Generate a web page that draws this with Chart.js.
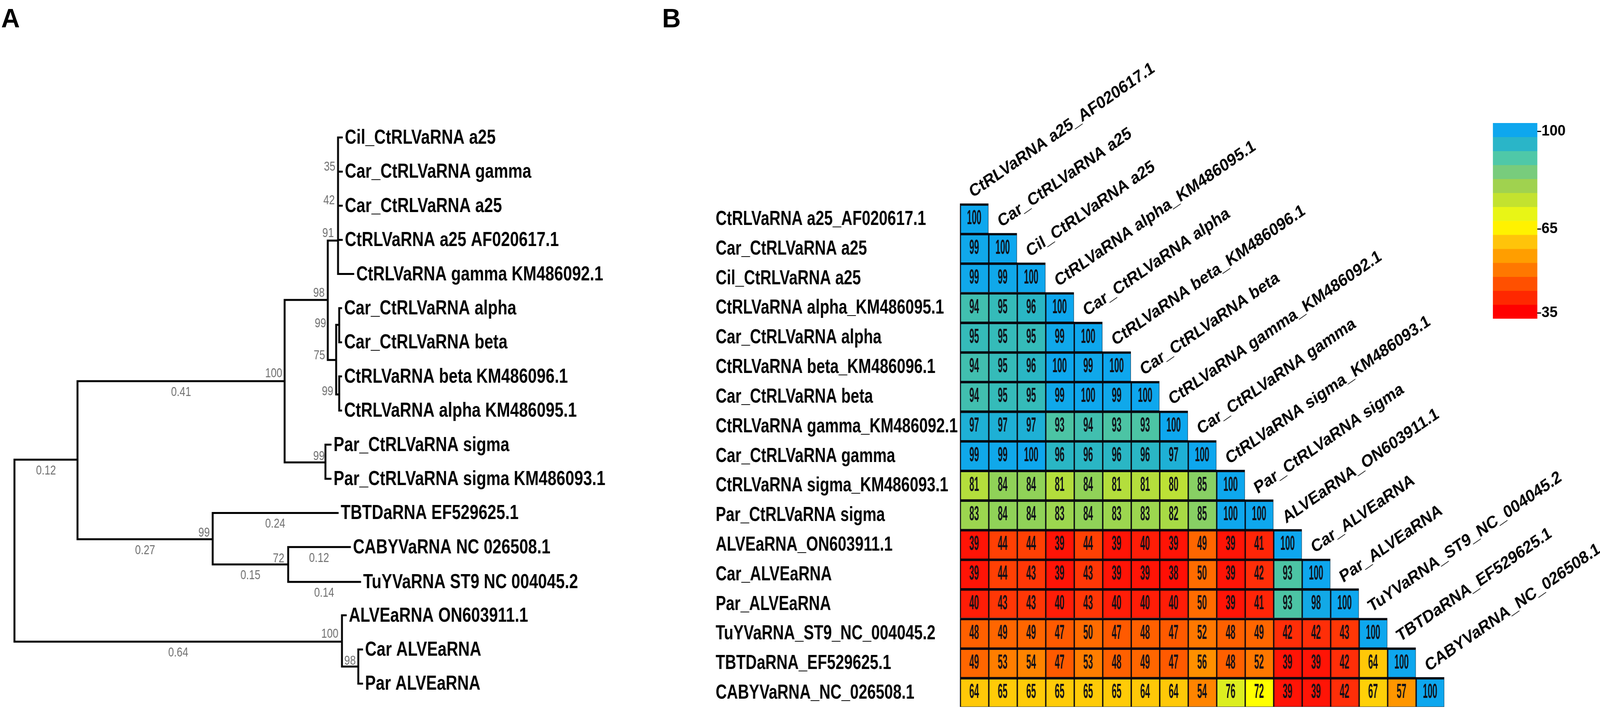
<!DOCTYPE html>
<html>
<head>
<meta charset="utf-8">
<title>Phylogeny and identity matrix</title>
<script src="https://cdn.jsdelivr.net/npm/chart.js@4"></script>
<style>
  html, body { margin: 0; background: #fff; overflow: hidden; }
  #page { position: absolute; left: 0; top: 0; width: 4212px; height: 1818px; transform-origin: 0 0; }
  canvas { position: absolute; top: 0; }
  .panel { position: absolute; top: 7px; font: bold 68px "Liberation Sans", Arial, sans-serif; color: #000; }
</style>
</head>
<body>
<div id="page">
<div class="panel" style="left:3px">A</div>
<div class="panel" style="left:1743px">B</div>
<canvas id="treeChart" width="1884" height="1818" style="left:0"></canvas>
<canvas id="heatChart" width="2328" height="1818" style="left:1884px"></canvas>
<canvas id="barChart" width="312" height="1818" style="left:3900px"></canvas>
</div>
<script>
// the window can come out narrower than the figure, keep the whole figure in view
document.getElementById('page').style.transform = `scaleX(${window.innerWidth / 4212})`;

/* ── tree: one entry per node, x comes from summing branch lengths ── */
const nodeParent = [-1, 0, 0, 1, 1, 3, 3, 5, 5, 8, 8,
  7, 7, 7, 7, 7, 9, 9, 10, 10, 6, 6, 4, 4, 23, 23, 2, 2, 27, 27];
const nodeLength = [0, .1236, .642, .406, .265, .0846, .08, .0201, .0164, .006, .006,
  .0074, .0074, .0074, .0074, .0298, .0037, .0037, .0037, .0037, .01, .01, .245, .148, .121, .141, .0074, .032, .0074, .0074];
const nodeRow = [9.44, 9.44, 14.77, 7.14, 11.77, 4.76, 9.52, 3.02, 6.52, 5.49, 7.53,
  0, 1, 2, 3, 4, 5, 6, 7, 8, 9, 10, 11, 12.51, 12, 13.02, 14, 15.5, 15, 16];

const leafNode = [11, 12, 13, 14, 15, 16, 17, 18, 19, 20, 21, 22, 24, 25, 26, 28, 29];
const leafNames = ['Cil_CtRLVaRNA a25', 'Car_CtRLVaRNA gamma', 'Car_CtRLVaRNA a25', 'CtRLVaRNA a25 AF020617.1',
  'CtRLVaRNA gamma KM486092.1', 'Car_CtRLVaRNA alpha', 'Car_CtRLVaRNA beta', 'CtRLVaRNA beta KM486096.1',
  'CtRLVaRNA alpha KM486095.1', 'Par_CtRLVaRNA sigma', 'Par_CtRLVaRNA sigma KM486093.1', 'TBTDaRNA EF529625.1',
  'CABYVaRNA NC 026508.1', 'TuYVaRNA ST9 NC 004045.2', 'ALVEaRNA ON603911.1', 'Car ALVEaRNA', 'Par ALVEaRNA'];

const lengthNode = [1, 2, 3, 4, 22, 23, 24, 25];
const lengthText = ['0.12', '0.64', '0.41', '0.27', '0.24', '0.15', '0.12', '0.14'];

const supportText = ['35', '42', '91', '98', '99', '75', '99', '99', '100', '99', '72', '100', '98'];
const supportDist = [.629, .628, .626, .608, .611, .609, .625, .608, .525, .383, .529, .635, .669];
const supportRow  = [.97, 1.96, 2.92, 4.67, 5.56, 6.5, 7.55, 9.45, 7.03, 11.69, 12.45, 14.66, 15.45];

/* ── identity matrix (lower triangle) ── */
const seqNames = ['CtRLVaRNA a25_AF020617.1', 'Car_CtRLVaRNA a25', 'Cil_CtRLVaRNA a25', 'CtRLVaRNA alpha_KM486095.1',
  'Car_CtRLVaRNA alpha', 'CtRLVaRNA beta_KM486096.1', 'Car_CtRLVaRNA beta', 'CtRLVaRNA gamma_KM486092.1',
  'Car_CtRLVaRNA gamma', 'CtRLVaRNA sigma_KM486093.1', 'Par_CtRLVaRNA sigma', 'ALVEaRNA_ON603911.1',
  'Car_ALVEaRNA', 'Par_ALVEaRNA', 'TuYVaRNA_ST9_NC_004045.2', 'TBTDaRNA_EF529625.1', 'CABYVaRNA_NC_026508.1'];

const identity = [
  [100],
  [99, 100],
  [99, 99, 100],
  [94, 95, 96, 100],
  [95, 95, 95, 99, 100],
  [94, 95, 96, 100, 99, 100],
  [94, 95, 95, 99, 100, 99, 100],
  [97, 97, 97, 93, 94, 93, 93, 100],
  [99, 99, 100, 96, 96, 96, 96, 97, 100],
  [81, 84, 84, 81, 84, 81, 81, 80, 85, 100],
  [83, 84, 84, 83, 84, 83, 83, 82, 85, 100, 100],
  [39, 44, 44, 39, 44, 39, 40, 39, 49, 39, 41, 100],
  [39, 44, 43, 39, 43, 39, 39, 38, 50, 39, 42, 93, 100],
  [40, 43, 43, 40, 43, 40, 40, 40, 50, 39, 41, 93, 98, 100],
  [48, 49, 49, 47, 50, 47, 48, 47, 52, 48, 49, 42, 42, 43, 100],
  [49, 53, 54, 47, 53, 48, 49, 47, 56, 48, 52, 39, 39, 42, 64, 100],
  [64, 65, 65, 65, 65, 65, 64, 64, 54, 76, 72, 39, 39, 42, 67, 57, 100]
];

/* colour per identity value, linear between these stops */
const stopValues = [100, 98, 96, 93, 87, 84, 81, 76, 72, 67, 64, 57, 54, 50, 47, 44, 42, 39, 35];
const stopColors = ['#0ea7ee', '#12a9e6', '#2ab6c4', '#4cc4a4', '#78cc7c', '#90d258', '#b4de3c', '#dcee20', '#ffff00',
  '#ffd008', '#ffc808', '#ff9600', '#ff8400', '#ff6c00', '#ff5a00', '#ff4004', '#ff2e08', '#ff1406', '#ff0000'];

/* colour bar */
const barLevels = [100, 95, 90, 85, 80, 75, 70, 65, 60, 55, 50, 45, 40, 35];
const barColors = ['#0ea7ee', '#2ab5c8', '#4fc8a8', '#78cc7c', '#a0d24f', '#c3e22f', '#e8f516', '#fff200',
  '#ffc40a', '#ff9e00', '#ff7800', '#ff5000', '#ff2800', '#ff0000'];
const barTicks = [35, 65, 100];

const FONT = '"Liberation Sans", Arial, sans-serif';
const GREY = '#6e6e6e';

/* ── helpers ── */
function hexToRgb(h) {
  return [1, 3, 5].map(i => parseInt(h.slice(i, i + 2), 16));
}

function colorFor(v) {
  for (let i = 1; i < stopValues.length; i++) {
    if (v >= stopValues[i]) {
      const t = (v - stopValues[i]) / (stopValues[i - 1] - stopValues[i]);
      const a = hexToRgb(stopColors[i]), b = hexToRgb(stopColors[i - 1]);
      return `rgb(${a.map((c, k) => Math.round(c + (b[k] - c) * t)).join(',')})`;
    }
  }
  return stopColors[stopColors.length - 1];
}

// text squeezed horizontally, the figure's type is narrower than the font
function putText(ctx, text, x, y, size, squeeze, opts = {}) {
  ctx.save();
  ctx.translate(x, y);
  ctx.scale(squeeze, 1);
  ctx.font = `${opts.weight || 'bold'} ${size}px ${FONT}`;
  ctx.fillStyle = opts.color || '#000';
  ctx.textAlign = opts.align || 'left';
  ctx.textBaseline = opts.baseline || 'alphabetic';
  ctx.fillText(text, 0, 0);
  ctx.restore();
}

function nodeDist(i) {
  let d = 0;
  for (let n = i; n >= 0; n = nodeParent[n]) d += nodeLength[n];
  return d;
}

/* ── A: tree ── */
const branchPoints = [];
nodeParent.forEach((p, i) => {
  if (p < 0) return;
  branchPoints.push(
    { x: nodeDist(p), y: nodeRow[p] },
    { x: nodeDist(p), y: nodeRow[i] },
    { x: nodeDist(i), y: nodeRow[i] },
    { x: nodeDist(i), y: null }
  );
});

const treeLabels = {
  id: 'treeLabels',
  afterDatasetsDraw(chart) {
    const { ctx, scales: { x, y } } = chart;
    leafNames.forEach((name, i) => {
      const n = leafNode[i];
      putText(ctx, name, x.getPixelForValue(nodeDist(n)) + 8, y.getPixelForValue(nodeRow[n]) + 16, 52, .81);
    });
    lengthText.forEach((t, i) => {
      const n = lengthNode[i];
      const mid = nodeDist(n) - nodeLength[n] / 2;
      putText(ctx, t, x.getPixelForValue(mid), y.getPixelForValue(nodeRow[n]) + 38, 33, .82,
        { weight: 'normal', color: GREY, align: 'center' });
    });
    supportText.forEach((t, i) => {
      putText(ctx, t, x.getPixelForValue(supportDist[i]), y.getPixelForValue(supportRow[i]), 33, .82,
        { weight: 'normal', color: GREY, align: 'right' });
    });
  }
};

new Chart(document.getElementById('treeChart'), {
  type: 'scatter',
  data: {
    datasets: [{
      data: branchPoints,
      showLine: true,
      spanGaps: false,
      borderColor: '#000',
      borderWidth: 5,
      borderCapStyle: 'square',
      pointRadius: 0
    }]
  },
  options: {
    responsive: false,
    animation: false,
    devicePixelRatio: 1,
    plugins: { legend: { display: false }, tooltip: { enabled: false } },
    scales: {
      x: { type: 'linear', display: false, min: -38 / 1343, max: (1884 - 38) / 1343 },
      y: { type: 'linear', display: false, reverse: true, min: -352 / 87.4, max: (1818 - 352) / 87.4 }
    }
  },
  plugins: [treeLabels]
});

/* ── B: identity matrix ── */
const heatLabels = {
  id: 'heatLabels',
  afterDatasetsDraw(chart) {
    const { ctx, scales: { x, y } } = chart;
    identity.forEach((row, r) => {
      row.forEach((v, c) => {
        putText(ctx, String(v), x.getPixelForValue(c), y.getPixelForValue(r + .5) + 1, 52, .44,
          { align: 'center', baseline: 'middle', color: '#101018' });
      });
    });
    seqNames.forEach((name, i) => {
      // row names
      putText(ctx, name, 0, y.getPixelForValue(i + .5) + 17, 52, .78);
      // column names, slanted, start just above the diagonal cell
      ctx.save();
      ctx.translate(x.getPixelForValue(i) - 4, y.getPixelForValue(i) - 14);
      ctx.rotate(-34 * Math.PI / 180);
      ctx.transform(1, 0, -.14, 1, 0, 0);
      ctx.font = `bold 42.5px ${FONT}`;
      ctx.fillStyle = '#000';
      ctx.textAlign = 'left';
      ctx.textBaseline = 'alphabetic';
      ctx.fillText(name, 0, 0);
      ctx.restore();
    });
  }
};

new Chart(document.getElementById('heatChart'), {
  type: 'bar',
  data: {
    labels: seqNames,
    datasets: identity.map((row, r) => ({
      data: row.map(() => [r, r + 1]),
      backgroundColor: row.map(colorFor),
      borderColor: '#07070f',
      borderWidth: { top: 6, left: 3, right: 1, bottom: 1 },
      borderSkipped: false,
      grouped: false,
      barPercentage: 1,
      categoryPercentage: 1
    }))
  },
  options: {
    responsive: false,
    animation: false,
    devicePixelRatio: 1,
    layout: { padding: { left: 643, right: 410, top: 521, bottom: 8 } },
    plugins: { legend: { display: false }, tooltip: { enabled: false } },
    scales: {
      x: { display: false },
      y: { type: 'linear', display: false, reverse: true, min: 0, max: identity.length }
    }
  },
  plugins: [heatLabels]
});

/* ── colour bar ── */
new Chart(document.getElementById('barChart'), {
  type: 'bar',
  data: {
    labels: ['identity'],
    datasets: barLevels.map((v, i) => ({
      data: [[v - 2, v + 3]],
      backgroundColor: barColors[i],
      grouped: false,
      barPercentage: 1,
      categoryPercentage: 1
    }))
  },
  options: {
    responsive: false,
    animation: false,
    devicePixelRatio: 1,
    layout: { padding: { left: 30, top: 315, bottom: 1002 } },
    plugins: { legend: { display: false }, tooltip: { enabled: false } },
    scales: {
      x: { display: false },
      y: {
        position: 'right',
        min: 33,
        max: 103,
        afterBuildTicks: axis => { axis.ticks = barTicks.map(value => ({ value })); },
        afterFit: axis => { axis.width = 165; },
        border: { display: false },
        grid: { drawOnChartArea: false, drawTicks: true, tickLength: 10, tickWidth: 3, color: '#000' },
        ticks: { padding: 1, color: '#000', font: { family: FONT, size: 38, weight: 'bold' } }
      }
    }
  }
});
</script>
</body>
</html>
